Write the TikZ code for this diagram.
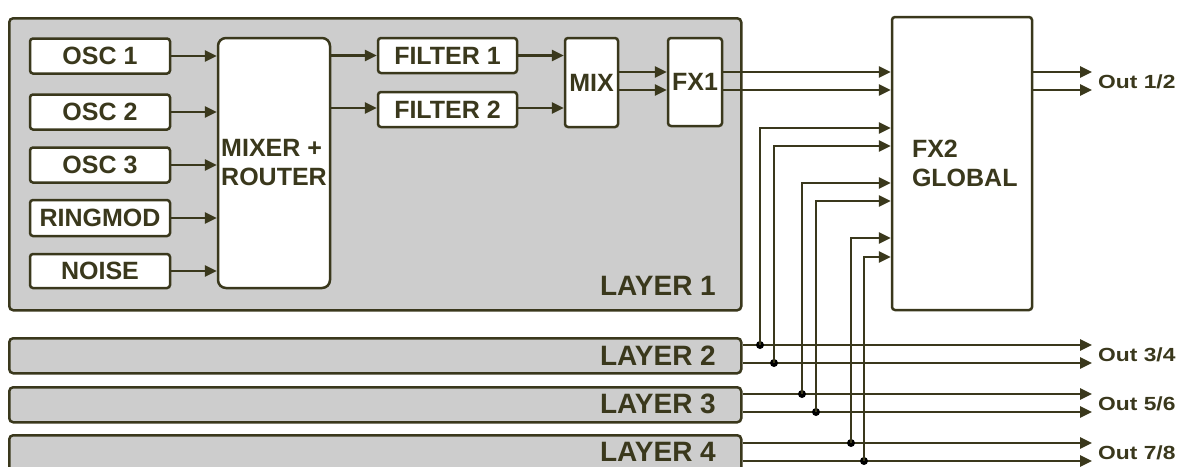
\documentclass[tikz,border=0pt]{standalone}
\usepackage{fontspec}
\setmainfont{Liberation Sans}
\newfontfamily\outfont[FakeStretch=1.2]{Liberation Sans}
\usetikzlibrary{arrows.meta,calc}
\definecolor{olive}{HTML}{3A381C}
\definecolor{panel}{HTML}{CDCDCD}
\tikzset{
  ln/.style={draw=olive, line width=2.6pt},
  arr/.style={ln, -{Triangle[length=12pt,width=11pt]}},
  layerbox/.style={draw=olive, line width=2.5pt, fill=panel, rounded corners=4pt, anchor=north west, inner sep=0pt},
  blockbox/.style={draw=olive, line width=2.5pt, fill=white, rounded corners=3pt, inner sep=0pt, text=olive, font=\bfseries\fontsize{25}{29}\selectfont},
  layerlbl/.style={text=olive, font=\bfseries\fontsize{28}{30}\selectfont, inner sep=0pt, anchor=east},
  outlbl/.style={text=olive, font=\outfont\bfseries\fontsize{19}{21}\selectfont, inner sep=0pt, anchor=west},
  dot/.style={circle, fill=black, inner sep=0pt, minimum size=8pt},
}
\begin{document}
\begin{tikzpicture}[x=1pt,y=-1pt]
\useasboundingbox (0,0) rectangle (1182,466);
\clip (0,0) rectangle (1182,466);
% layers
\node[layerbox, minimum width=732pt, minimum height=292pt] (L1) at (8,17) {};
\node[layerlbl] (L1t) at (716,286) {LAYER 1};
\node[layerbox, minimum width=732pt, minimum height=35pt] (L2) at (8,337) {};
\node[layerlbl] (L2t) at (716,356) {LAYER 2};
\node[layerbox, minimum width=732pt, minimum height=35pt] (L3) at (8,386) {};
\node[layerlbl] (L3t) at (716,404) {LAYER 3};
\node[layerbox, minimum width=732pt, minimum height=36pt] (L4) at (8,434) {};
\node[layerlbl] (L4t) at (716,452) {LAYER 4};
% sources
\node[blockbox, minimum width=140pt, minimum height=35pt] (o1) at (100,56) {OSC 1};
\node[blockbox, minimum width=140pt, minimum height=35pt] (o2) at (100,112) {OSC 2};
\node[blockbox, minimum width=140pt, minimum height=35pt] (o3) at (100,165) {OSC 3};
\node[blockbox, minimum width=140pt, minimum height=36pt] (rm) at (100,218) {RINGMOD};
\node[blockbox, minimum width=140pt, minimum height=34pt] (ns) at (100,271) {NOISE};
% mixer
\node[blockbox, rounded corners=8pt, minimum width=112pt, minimum height=250pt, align=left] (mx) at (274,163) {MIXER +\\ROUTER};
% filters
\node[blockbox, minimum width=139pt, minimum height=35pt] (f1) at (447.5,55.5) {FILTER 1};
\node[blockbox, minimum width=139pt, minimum height=35pt] (f2) at (447.5,109.5) {FILTER 2};
\node[blockbox, minimum width=53pt, minimum height=89pt] (mix) at (591.5,82.5) {MIX};
\node[blockbox, minimum width=54pt, minimum height=88pt] (fx1) at (695,82) {FX1};
% FX2
\node[blockbox, minimum width=140pt, minimum height=293pt, text width=100pt, align=left] (fx2) at (962,163.5) {FX2\\GLOBAL};
% connectors inside layer 1
\draw[arr] (o1.east) -- (o1.east -| mx.west);
\draw[arr] (o2.east) -- (o2.east -| mx.west);
\draw[arr] (o3.east) -- (o3.east -| mx.west);
\draw[arr] (rm.east) -- (rm.east -| mx.west);
\draw[arr] (ns.east) -- (ns.east -| mx.west);
\draw[arr] (f1.west -| mx.east) -- (f1.west);
\draw[arr] (mx.east |- 0,108) -- (f2.west |- 0,108);
\draw[arr] (f1.east) -- (f1.east -| mix.west);
\draw[arr] (f2.east |- 0,108) -- (mix.west |- 0,108);
\draw[arr] (mix.east |- 0,72) -- (fx1.west |- 0,72);
\draw[arr] (mix.east |- 0,90) -- (fx1.west |- 0,90);
\draw[arr] (fx1.east |- 0,72) -- (fx2.west |- 0,72);
\draw[arr] (fx1.east |- 0,90) -- (fx2.west |- 0,90);
% outputs 1/2
\coordinate (o12a) at (1092,72);
\coordinate (o12b) at (1092,90);
\draw[arr] (fx2.east |- o12a) -- (o12a);
\draw[arr] (fx2.east |- o12b) -- (o12b);
\node[outlbl] (out12) at (1098,82) {Out 1/2};
% layer outputs
\coordinate (e2a) at (1092,345); \coordinate (e2b) at (1092,363);
\coordinate (e3a) at (1092,394); \coordinate (e3b) at (1092,412);
\coordinate (e4a) at (1092,443); \coordinate (e4b) at (1092,461);
\draw[arr] (L2.east |- e2a) -- (e2a);
\draw[arr] (L2.east |- e2b) -- (e2b);
\draw[arr] (L3.east |- e3a) -- (e3a);
\draw[arr] (L3.east |- e3b) -- (e3b);
\draw[arr] (L4.east |- e4a) -- (e4a);
\draw[arr] (L4.east |- e4b) -- (e4b);
\node[outlbl] (out34) at (1098,355) {Out 3/4};
\node[outlbl] (out56) at (1098,404) {Out 5/6};
\node[outlbl] (out78) at (1098,453) {Out 7/8};
% taps to FX2
\node[dot] (d2a) at (760,345) {};
\node[dot] (d2b) at (774,363) {};
\node[dot] (d3a) at (802,394) {};
\node[dot] (d3b) at (816,412) {};
\node[dot] (d4a) at (851,443) {};
\node[dot] (d4b) at (864,461) {};
\draw[arr] (d2a.center) -- (760,128) -- (fx2.west |- 0,128);
\draw[arr] (d2b.center) -- (774,146) -- (fx2.west |- 0,146);
\draw[arr] (d3a.center) -- (802,183) -- (fx2.west |- 0,183);
\draw[arr] (d3b.center) -- (816,201) -- (fx2.west |- 0,201);
\draw[arr] (d4a.center) -- (851,238) -- (fx2.west |- 0,238);
\draw[arr] (d4b.center) -- (864,257) -- (fx2.west |- 0,257);
\end{tikzpicture}
\end{document}
